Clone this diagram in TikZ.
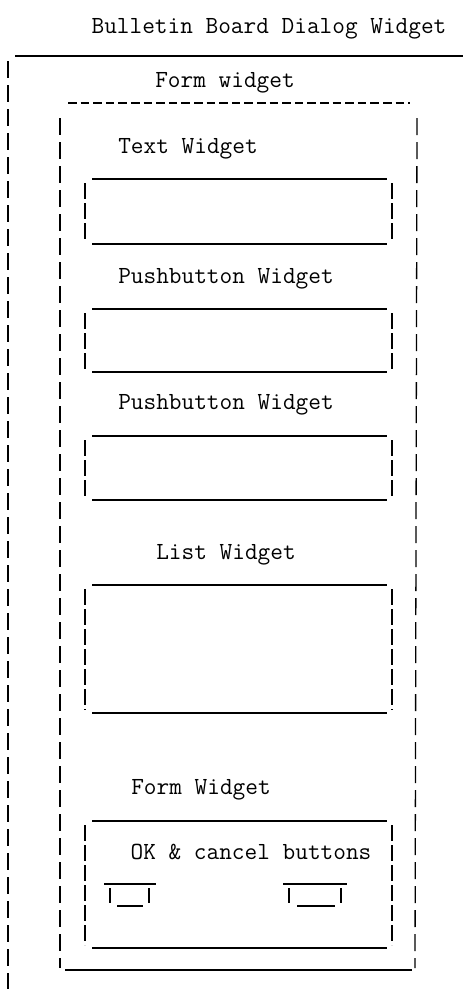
\documentclass[tikz,border=0pt]{standalone}
\usepackage{fontspec}
\begin{document}
\begin{tikzpicture}[x=1pt,y=-1pt,
  lbl/.style={font=\ttfamily\fontsize{24.6}{25}\selectfont, inner sep=0pt, anchor=base},
  hline/.style={line width=1.3pt},
  vline/.style={line width=1.3pt, dash pattern=on 17pt off 7pt},
  hyph/.style={line width=1.6pt, dash pattern=on 8.5pt off 4.1pt}]
\useasboundingbox (0,0) rectangle (463,989);
% labels
\node[lbl] (title) at (269,33) {Bulletin Board Dialog Widget};
\node[lbl] (formlbl) at (225,87) {Form widget};
\node[lbl] (textlbl) at (188,153) {Text Widget};
\node[lbl] (pb1lbl) at (226,283) {Pushbutton Widget};
\node[lbl] (pb2lbl) at (226,409) {Pushbutton Widget};
\node[lbl] (listlbl) at (226,559) {List Widget};
\node[lbl] (form2lbl) at (201,794) {Form Widget};
\node[lbl] (oklbl) at (251,859) {OK \& cancel buttons};
% outer bulletin board
\coordinate (bbTL) at (15,56);
\coordinate (bbTR) at (463,56);
\draw[hline] (bbTL) -- (bbTR);
\coordinate (bbL1) at (8,61);
\coordinate (bbL2) at (8,989);
\draw[vline] (bbL1) -- (bbL2);
% form widget
\coordinate (fmT1) at (68,103);
\coordinate (fmT2) at (410,103);
\draw[hyph] (fmT1) -- (fmT2);
\coordinate (fmL1) at (60,118);
\coordinate (fmL2) at (60,968);
\coordinate (fmR1) at (417,118);
\coordinate (fmR2) at (415,968);
\draw[vline] (fmL1) -- (fmL2);
\draw[vline] (fmR1) -- (fmR2);
\coordinate (fmB1) at (65,970);
\coordinate (fmB2) at (412,970);
\draw[hline] (fmB1) -- (fmB2);
% inner boxes
\foreach \nm/\t/\b in {text/179/244, pbone/309/372, pbtwo/436/500, list/585/713, formtwo/821/948}{
  \coordinate (\nm TL) at (92,\t);
  \coordinate (\nm TR) at (387,\t);
  \coordinate (\nm BL) at (92,\b);
  \coordinate (\nm BR) at (387,\b);
  \coordinate (\nm L1) at (85,\t+4);
  \coordinate (\nm L2) at (85,\b-3);
  \coordinate (\nm R1) at (392,\t+4);
  \coordinate (\nm R2) at (392,\b-3);
  \draw[hline] (\nm TL) -- (\nm TR);
  \draw[hline] (\nm BL) -- (\nm BR);
  \draw[vline,line width=1.1pt,dash pattern=on 16pt off 4pt] (\nm L1) -- (\nm L2);
  \draw[vline,line width=1.1pt,dash pattern=on 16pt off 4pt] (\nm R1) -- (\nm R2);
}
% small buttons
\coordinate (okT1) at (104,884);
\coordinate (okT2) at (156,884);
\coordinate (okL1) at (110,888);
\coordinate (okL2) at (110,903);
\coordinate (okR1) at (149,888);
\coordinate (okR2) at (149,903);
\coordinate (okB1) at (117,906);
\coordinate (okB2) at (143,906);
\draw[hline] (okT1) -- (okT2);
\draw[hline] (okL1) -- (okL2);
\draw[hline] (okR1) -- (okR2);
\draw[hline] (okB1) -- (okB2);
\coordinate (caT1) at (283,884);
\coordinate (caT2) at (347,884);
\coordinate (caL1) at (289,888);
\coordinate (caL2) at (289,903);
\coordinate (caR1) at (341,888);
\coordinate (caR2) at (341,903);
\coordinate (caB1) at (297,906);
\coordinate (caB2) at (335,906);
\draw[hline] (caT1) -- (caT2);
\draw[hline] (caL1) -- (caL2);
\draw[hline] (caR1) -- (caR2);
\draw[hline] (caB1) -- (caB2);
\end{tikzpicture}
\end{document}
